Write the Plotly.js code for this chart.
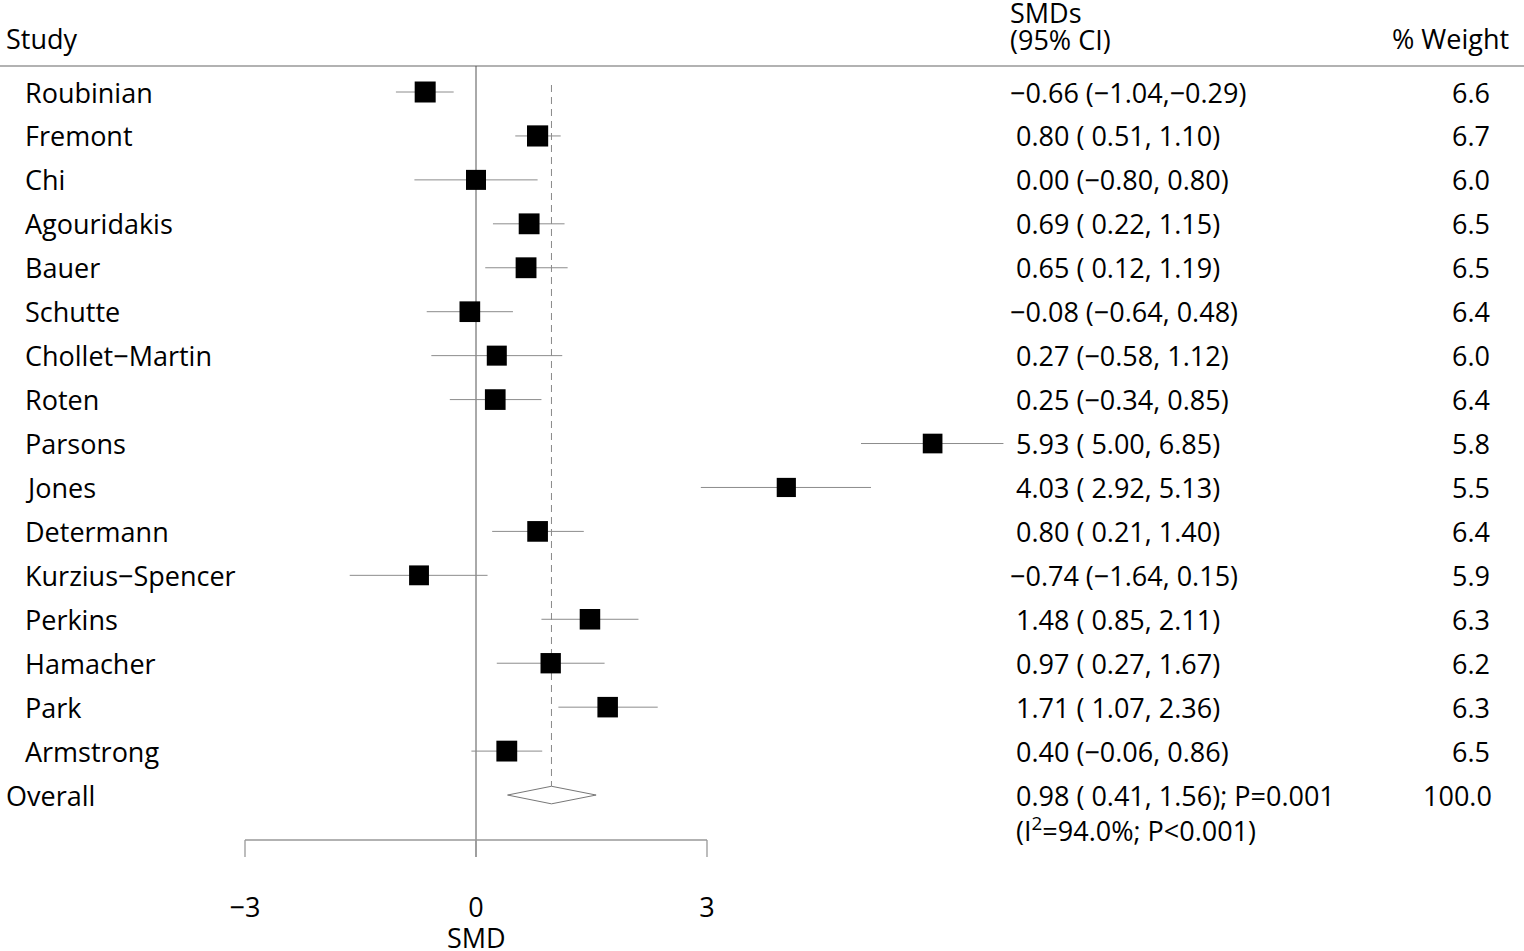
<!DOCTYPE html>
<html>
<head>
<meta charset="utf-8">
<script src="https://cdn.plot.ly/plotly-3.0.1.min.js"></script>
<style>html,body{margin:0;padding:0;background:#fff;}#chart{width:1524px;height:951px;}</style>
</head>
<body>
<div id="chart"></div>
<script>
// ---- data ----
var studies = ["Roubinian","Fremont","Chi","Agouridakis","Bauer","Schutte","Chollet\u2212Martin","Roten","Parsons","Jones","Determann","Kurzius\u2212Spencer","Perkins","Hamacher","Park","Armstrong"];
var smd   = [-0.66,0.80,0.00,0.69,0.65,-0.08,0.27,0.25,5.93,4.03,0.80,-0.74,1.48,0.97,1.71,0.40];
var ciLow = [-1.04,0.51,-0.80,0.22,0.12,-0.64,-0.58,-0.34,5.00,2.92,0.21,-1.64,0.85,0.27,1.07,-0.06];
var ciHigh= [-0.29,1.10,0.80,1.15,1.19,0.48,1.12,0.85,6.85,5.13,1.40,0.15,2.11,1.67,2.36,0.86];
var weight= [6.6,6.7,6.0,6.5,6.5,6.4,6.0,6.4,5.8,5.5,6.4,5.9,6.3,6.2,6.3,6.5];
var overallLabel = "Overall";
var overallSMD = 0.98, overallLow = 0.41, overallHigh = 1.56, overallWeight = 100.0;
var overallP = "0.001", heteroI2 = "94.0", heteroP = "<0.001";
var xTickVals = [-3, 0, 3];
var xTickText = ["\u22123", "0", "3"];
var xTitle = "SMD";
var headStudy = "Study", headCI1 = "SMDs", headCI2 = "(95% CI)", headWeight = "% Weight";

// ---- layout helpers ----
var W = 1524, H = 951;
var FONT = "Open Sans, sans-serif";
var FS = 27;
var plotBottom = 889;
var rowTop = 92, rowStep = 43.94;
function rowOf(p){ return (p - rowTop) / rowStep; }
function px(x){ return x / W; }
function py(p){ return (plotBottom - p) / plotBottom; }
var x0px = 476, unit = 77;
var xRange = [-x0px/unit, (W - x0px)/unit];
var yRange = [rowOf(plotBottom), rowOf(0)];

function sgn(v, lead){ return v < 0 ? "\u2212" + Math.abs(v).toFixed(2) : (lead ? " " : "") + v.toFixed(2); }

var rows = studies.map(function(_, i){ return i; });
var overallRow = studies.length;

var traces = [];
var dh = 0.2;
traces.push({
  type: "scatter", mode: "lines",
  x: [overallLow, overallSMD, overallHigh, overallSMD, overallLow],
  y: [overallRow, overallRow - dh, overallRow, overallRow + dh, overallRow],
  fill: "toself", fillcolor: "#fff",
  line: { color: "#777", width: 1 },
  hoverinfo: "skip", showlegend: false
});
traces.push({
  type: "scatter", mode: "markers",
  x: smd, y: rows, opacity: 1,
  marker: { symbol: "square", color: "rgb(0,0,0)", opacity: 1,
            size: weight.map(function(w){ return 21 * Math.sqrt(w / 6.6); }),
            line: { width: 0, color: "rgb(0,0,0)" } },
  error_x: { type: "data", symmetric: false,
             array: ciHigh.map(function(h, i){ return h - smd[i]; }),
             arrayminus: ciLow.map(function(l, i){ return smd[i] - l; }),
             color: "#8c8c8c", thickness: 1, width: 0 },
  hoverinfo: "skip", showlegend: false
});

var shapes = [
  { type: "line", layer: "below", xref: "paper", yref: "y", x0: 0, x1: 1, y0: rowOf(66), y1: rowOf(66), line: { color: "#999", width: 1.3 } },
  { type: "line", layer: "below", xref: "x", yref: "y", x0: 0, x1: 0, y0: rowOf(66), y1: rowOf(857), line: { color: "#555", width: 1 } },
  { type: "line", layer: "below", xref: "x", yref: "y", x0: overallSMD, x1: overallSMD, y0: rowOf(85), y1: overallRow - dh, line: { color: "#888", width: 1, dash: "7px,5px" } },
  { type: "line", layer: "below", xref: "x", yref: "y", x0: xTickVals[0], x1: xTickVals[xTickVals.length-1], y0: rowOf(840), y1: rowOf(840), line: { color: "#999", width: 1.3 } }
];
xTickVals.forEach(function(t){
  shapes.push({ type: "line", layer: "below", xref: "x", yref: "y", x0: t, x1: t, y0: rowOf(840), y1: rowOf(857), line: { color: "#999", width: 1.3 } });
});

var ann = [];
function txt(t, xpx, row, anchor){
  ann.push({ text: t, xref: "paper", yref: "y", x: px(xpx), y: row, xanchor: anchor, yanchor: "middle",
             showarrow: false, font: { family: FONT, size: FS, color: "#000" } });
}
function txtP(t, xpx, ypx, anchor){
  ann.push({ text: t, xref: "paper", yref: "paper", x: px(xpx), y: py(ypx), xanchor: anchor, yanchor: "middle",
             showarrow: false, font: { family: FONT, size: FS, color: "#000" } });
}
txt(headStudy, 4, rowOf(38), "left");
txtP(headCI1, 1008, 12, "left");
txt(headCI2, 1008, rowOf(39), "left");
txt(headWeight, 1511, rowOf(38), "right");
studies.forEach(function(s, i){
  txt(s, 23, i, "left");
  var ci = sgn(smd[i], false) + " (" + sgn(ciLow[i], true) + "," + sgn(ciHigh[i], true) + ")";
  txt(ci, smd[i] < 0 ? 1008 : 1014, i, "left");
  txt(weight[i].toFixed(1), 1492, i, "right");
});
txt(overallLabel, 4, overallRow, "left");
txt(sgn(overallSMD,false) + " (" + sgn(overallLow,true) + "," + sgn(overallHigh,true) + "); P=" + overallP, 1014, overallRow, "left");
txt("(I<sup>2</sup>=" + heteroI2 + "%; P" + heteroP.replace("<","&lt;") + ")", 1014, rowOf(829), "left");
txt(overallWeight.toFixed(1), 1494, overallRow, "right");
// x-axis title centred on the null value
ann.push({ text: xTitle, xref: "x", yref: "paper", x: 0, y: py(938), xanchor: "center", yanchor: "middle",
           showarrow: false, font: { family: FONT, size: FS, color: "#000" } });

var layout = {
  width: W, height: H,
  margin: { l: 0, r: 0, t: 0, b: H - plotBottom, pad: 0 },
  paper_bgcolor: "#fff", plot_bgcolor: "#fff",
  font: { family: FONT, size: FS, color: "#000" },
  xaxis: { range: xRange, showgrid: false, zeroline: false, showline: false,
           tickmode: "array", tickvals: xTickVals, ticktext: xTickText, ticks: "",
           tickfont: { family: FONT, size: FS, color: "#000" },
           fixedrange: true },
  yaxis: { range: yRange, visible: false, fixedrange: true },
  shapes: shapes, annotations: ann, showlegend: false
};
Plotly.newPlot("chart", traces, layout, { staticPlot: true, displayModeBar: false });
</script>
</body>
</html>
